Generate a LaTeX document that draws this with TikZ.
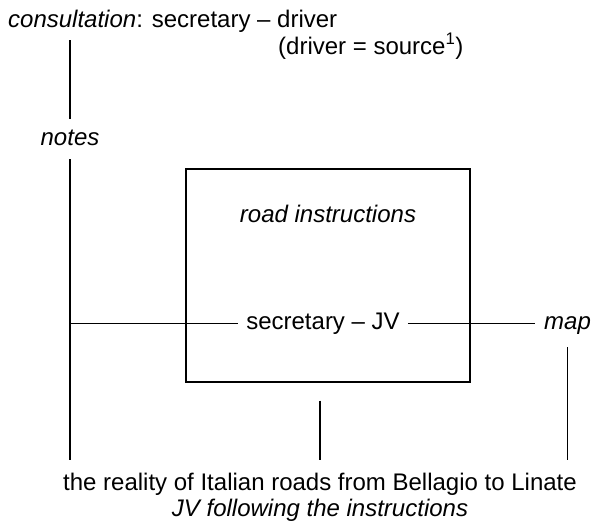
\documentclass[tikz,border=0pt]{standalone}
\usepackage{fontspec}
\setmainfont{Liberation Sans}
\usetikzlibrary{positioning}
\tikzset{
  txt/.style   = {font=\fontsize{24}{27}\selectfont, inner sep=0pt},
  itxt/.style  = {txt, font=\fontsize{24}{27}\selectfont\itshape},
  link/.style  = {draw=black, line width=1.1pt},
  frame/.style = {draw=black, line width=1.1pt, inner sep=0pt,
                  minimum width=284pt, minimum height=213pt},
}
\begin{document}
\begin{tikzpicture}[x=1pt,y=-1pt]
\useasboundingbox (0,0) rectangle (591,525);

\node[txt, anchor=base west] (consult) at (8,27)
  {\textit{consultation}: secretary -- driver};
\node[txt, anchor=base west] (source) at (278,54)
  {(driver = source\textsuperscript{1})};
\node[itxt, anchor=base] (notes) at (70,145) {notes};

% the instructions box
\node[frame] (instr) at (328,275.5) {};
\node[itxt, anchor=base] (road) at (328,222) {road instructions};
\node[txt, anchor=base, inner xsep=8pt] (secjv) at (323,329) {secretary -- JV};
\node[itxt, anchor=base west] (map) at (544,329) {map};

\node[txt, anchor=base] (reality) at (320,490)
  {the reality of Italian roads from Bellagio to Linate};
\node[itxt, anchor=base] (follow) at (320,516) {JV following the instructions};

\draw[link, shorten <=8pt, shorten >=10pt] (notes.north |- consult.south) -- (notes.north);
\draw[link, shorten <=14pt, shorten >=12pt] (notes.south) -- (notes.south |- reality.north);
\draw[link] (notes.south |- secjv.west) -- (secjv.west);
\draw[link, shorten >=9pt] (secjv.east) -- (secjv.east -| map.west);
\draw[link, shorten <=13pt, shorten >=12pt] (map.south) -- (map.south |- reality.north);
\draw[link, shorten <=18pt, shorten >=12pt] (reality.north |- instr.south) -- (reality.north);

\end{tikzpicture}
\end{document}
